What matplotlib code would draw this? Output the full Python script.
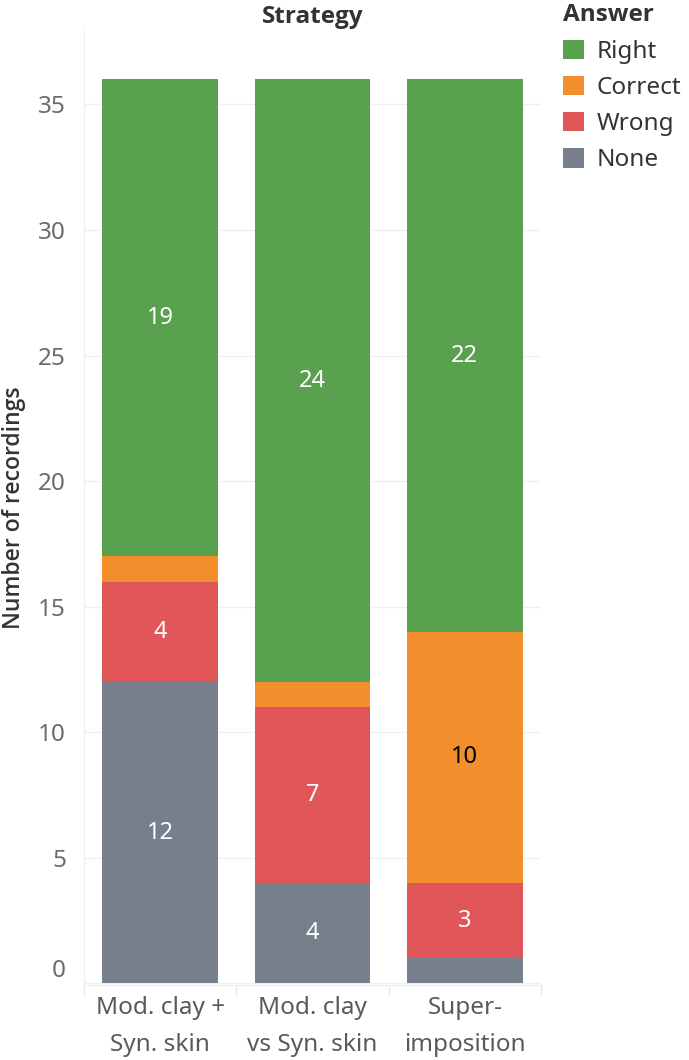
import matplotlib
matplotlib.use("Agg")
import matplotlib.pyplot as plt
import numpy as np

plt.rcParams['font.family'] = ['Noto Sans', 'DejaVu Sans']
BOLD_FAMILY = ['Open Sans', 'DejaVu Sans']

categories = ["Mod. clay +\nSyn. skin", "Mod. clay\nvs Syn. skin", "Super-\nimposition"]
answers = ["None", "Wrong", "Correct", "Right"]
none_vals = [12, 4, 1]
wrong_vals = [4, 7, 3]
correct_vals = [1, 1, 10]
right_vals = [19, 24, 22]
series = [none_vals, wrong_vals, correct_vals, right_vals]
colors = {"None": "#767F8B", "Wrong": "#E15759", "Correct": "#F28E2B", "Right": "#59A14F"}
label_colors = {"None": "white", "Wrong": "white", "Correct": "black", "Right": "white"}
min_label = 3

W, H = 689, 1060
fig = plt.figure(figsize=(W / 100, H / 100), dpi=100)
ax = fig.add_axes([84 / W, (H - 985) / H, (541 - 84) / W, (985 - 30) / H])

x = np.arange(len(categories))
bottom = np.zeros(len(categories))
handles = {}
for name, vals in zip(answers, series):
    vals = np.array(vals, dtype=float)
    bars = ax.bar(x, vals, width=0.76, bottom=bottom, color=colors[name], label=name, zorder=2)
    handles[name] = bars
    for xi, v, b in zip(x, vals, bottom):
        if v >= min_label:
            ax.text(xi, b + v / 2, f"{int(v)}", ha="center", va="center",
                    color=label_colors[name], fontsize=17, zorder=3)
    bottom += vals

ax.set_xlim(-0.5, 2.5)
ax.set_ylim(-0.06, 37.96)
ax.set_yticks(np.arange(0, 36, 5))
ax.yaxis.grid(True, color="#f0f0f0", linewidth=1, zorder=0)
ax.tick_params(axis="y", length=0, labelsize=17.5, labelcolor="#6b6b6b", pad=13)
ax.get_yticklabels()[0].set_verticalalignment("bottom")
ax.set_xticks(x)
ax.set_xticklabels(categories, fontsize=17.5, color="#5a5a5a", linespacing=1.7)
ax.tick_params(axis="x", length=0, pad=8)
ax.set_xticks([-0.5, 0.5, 1.5, 2.5], minor=True)
ax.tick_params(axis="x", which="minor", length=8, color="#e8e8e8", width=1)
for s in ["top", "right"]:
    ax.spines[s].set_visible(False)
ax.spines["left"].set_color("#efefef")
ax.spines["bottom"].set_color("#efefef")

ax.set_ylabel("Number of recordings", fontsize=16.5, color="#333333",
              fontweight="semibold", family=BOLD_FAMILY)
ax.yaxis.set_label_coords(-0.127, 0.5)
ax.set_title("Strategy", fontsize=17.5, color="#333333", fontweight="bold",
             family=BOLD_FAMILY, pad=5, loc="center")

order = ["Right", "Correct", "Wrong", "None"]
leg = fig.legend([handles[n] for n in order], order, loc="upper left",
                 bbox_to_anchor=(561 / W, 1 - 1 / H), frameon=False,
                 fontsize=17.5, title="Answer", title_fontsize=17.5,
                 handlelength=0.85, handleheight=0.85, handletextpad=0.5,
                 labelspacing=0.5, alignment="left", borderaxespad=0, borderpad=0.1)
leg.get_title().set_fontweight("bold")
leg.get_title().set_family(BOLD_FAMILY)
leg.get_title().set_color("#333333")
for t in leg.get_texts():
    t.set_color("#333333")

fig.savefig("out.png", dpi=100)
